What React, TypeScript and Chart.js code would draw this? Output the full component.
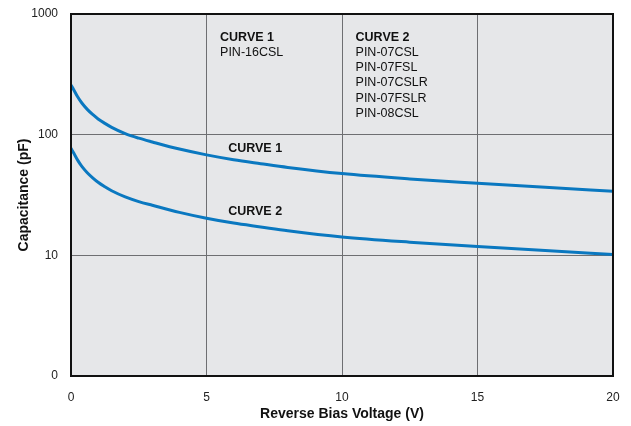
import React, { useEffect, useRef } from "react";
import { Chart, registerables } from "chart.js";

Chart.register(...registerables);

const voltages = [0, 0.1, 0.25, 0.4, 0.6, 0.8, 1, 1.25, 1.5, 2, 2.5, 3, 4, 5, 6, 7, 8, 10, 12.5, 15, 17.5, 20];
const curve1 = [258, 236, 205, 183, 162, 147, 135, 124, 115, 102, 93.5, 87, 76, 68, 62, 57.5, 53.5, 47.6, 43, 39.6, 36.6, 34.0];
const curve2 = [77, 70.4, 61.2, 54.6, 48.4, 43.9, 40.3, 37.0, 34.3, 30.5, 27.9, 26, 22.7, 20.3, 18.5, 17.2, 16.0, 14.2, 12.85, 11.85, 10.95, 10.15];

const xTicks = [0, 5, 10, 15, 20];
const yTicks = [1, 10, 100, 1000];
const yTickLabels = ["0", "10", "100", "1000"];

const curve1Block = ["CURVE 1", "PIN-16CSL"];
const curve2Block = ["CURVE 2", "PIN-07CSL", "PIN-07FSL", "PIN-07CSLR", "PIN-07FSLR", "PIN-08CSL"];
const curveLabels = ["CURVE 1", "CURVE 2"];

const FONT = '"Liberation Sans", Arial, Helvetica, sans-serif';
const BLUE = "#0a78c0";

const noPad = (s: any) => {
  s.paddingTop = 0;
  s.paddingBottom = 0;
  s.paddingLeft = 0;
  s.paddingRight = 0;
};

export default function App() {
  const ref = useRef<HTMLCanvasElement | null>(null);

  useEffect(() => {
    if (!ref.current) return;

    const framePlugin = {
      id: "frame",
      beforeDraw(chart: any) {
        const { ctx, chartArea: a } = chart;
        ctx.save();
        ctx.fillStyle = "#e6e7e9";
        ctx.fillRect(a.left, a.top, a.right - a.left, a.bottom - a.top);
        ctx.restore();
      },
      afterDatasetsDraw(chart: any) {
        const { ctx, chartArea: a, scales } = chart;
        const xs = scales.x;
        const ys = scales.y;
        ctx.save();
        ctx.fillStyle = "#111";
        ctx.textBaseline = "middle";
        ctx.textAlign = "left";
        const drawBlock = (lines: string[], xv: number, yv: number) => {
          const x0 = xs.getPixelForValue(xv);
          const y0 = ys.getPixelForValue(yv);
          lines.forEach((t, i) => {
            ctx.font = (i === 0 ? "bold " : "") + "12.5px " + FONT;
            ctx.fillText(t, x0, y0 + i * 15.2);
          });
        };
        drawBlock(curve1Block, 5.5, 640);
        drawBlock(curve2Block, 10.5, 640);
        ctx.font = "bold 12.5px " + FONT;
        ctx.fillText(curveLabels[0], xs.getPixelForValue(5.8), ys.getPixelForValue(77.4));
        ctx.fillText(curveLabels[1], xs.getPixelForValue(5.8), ys.getPixelForValue(22.9));
        ctx.strokeStyle = "#111";
        ctx.lineWidth = 2;
        ctx.strokeRect(a.left, a.top, a.right - a.left, a.bottom - a.top);
        ctx.restore();
      },
    };

    const chart = new Chart(ref.current, {
      type: "line",
      data: {
        datasets: [
          {
            label: "Curve 1",
            data: voltages.map((v, i) => ({ x: v, y: curve1[i] })),
            borderColor: BLUE,
            borderWidth: 3,
            pointRadius: 0,
            cubicInterpolationMode: "monotone",
            fill: false,
          },
          {
            label: "Curve 2",
            data: voltages.map((v, i) => ({ x: v, y: curve2[i] })),
            borderColor: BLUE,
            borderWidth: 3,
            pointRadius: 0,
            cubicInterpolationMode: "monotone",
            fill: false,
          },
        ],
      },
      options: {
        responsive: false,
        animation: false,
        devicePixelRatio: 1,
        layout: { padding: { top: 14, right: 18, left: 0, bottom: 0 } },
        plugins: { legend: { display: false }, tooltip: { enabled: false } },
        scales: {
          x: {
            type: "linear",
            min: 0,
            max: 20,
            afterBuildTicks: (s: any) => {
              s.ticks = xTicks.map((v) => ({ value: v }));
            },
            afterFit: (s: any) => {
              s.height = 50;
              noPad(s);
            },
            grid: { color: "#6e6f72", lineWidth: 1, drawTicks: false },
            border: { display: false },
            ticks: {
              color: "#222",
              font: { family: FONT, size: 12 },
              padding: 14,
              maxRotation: 0,
            },
            title: {
              display: true,
              text: "Reverse Bias Voltage (V)",
              color: "#111",
              font: { family: FONT, size: 14, weight: "bold" },
              padding: { top: 0, bottom: 3 },
            },
          },
          y: {
            type: "logarithmic",
            min: 1,
            max: 1000,
            afterBuildTicks: (s: any) => {
              s.ticks = yTicks.map((v) => ({ value: v, major: false }));
            },
            afterFit: (s: any) => {
              s.width = 71;
              noPad(s);
            },
            grid: { color: "#6e6f72", lineWidth: 1, drawTicks: false },
            border: { display: false },
            ticks: {
              color: "#222",
              font: { family: FONT, size: 12 },
              padding: 13,
              callback: (v: any) => {
                const i = yTicks.indexOf(Number(v));
                return i >= 0 ? yTickLabels[i] : "";
              },
            },
            title: {
              display: true,
              text: "Capacitance (pF)",
              color: "#111",
              font: { family: FONT, size: 14, weight: "bold" },
              padding: { top: 16, bottom: 0 },
            },
          },
        },
      },
      plugins: [framePlugin],
    } as any);

    return () => chart.destroy();
  }, []);

  return (
    <div style={{ position: "absolute", left: 0, top: 0, width: 631, height: 426, background: "#fff" }}>
      <canvas ref={ref} width={631} height={426} />
    </div>
  );
}
